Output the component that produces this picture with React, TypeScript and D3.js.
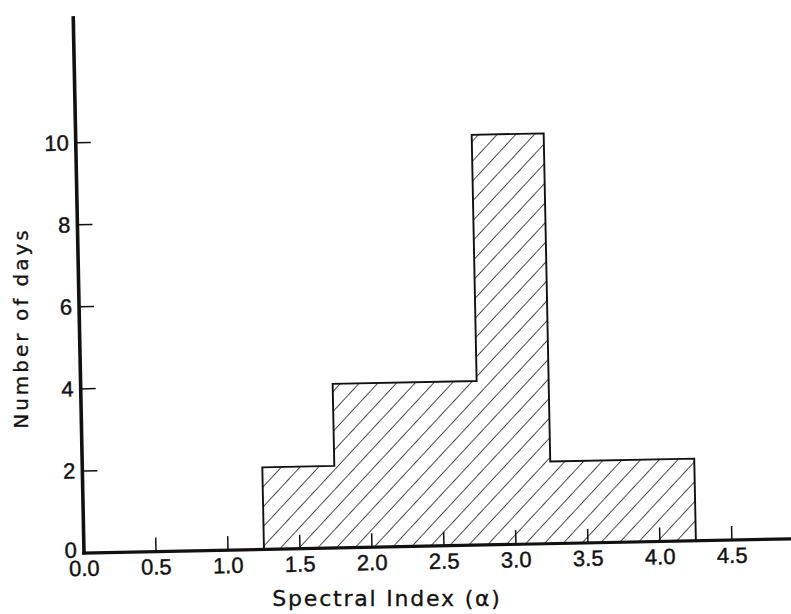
import React from "react";
import * as d3 from "d3";

const binEdges = [1.25, 1.75, 2.75, 3.25, 4.25];
const counts = [2, 4, 10, 2];
const xTicks = [0.0, 0.5, 1.0, 1.5, 2.0, 2.5, 3.0, 3.5, 4.0, 4.5];
const yTicks = [2, 4, 6, 8, 10];
const xTitle = "Spectral Index (α)";
const yTitle = "Number of days";

const W = 791;
const H = 614;
const ox = 84;
const oy = 553;

export default function App() {
  const x = d3.scaleLinear().domain([0, 1]).range([ox, ox + 144]);
  const y = d3.scaleLinear().domain([0, 10]).range([oy, oy - 410.3]);

  const pts: [number, number][] = [[binEdges[0], 0]];
  counts.forEach((c, i) => {
    pts.push([binEdges[i], c]);
    pts.push([binEdges[i + 1], c]);
  });
  pts.push([binEdges[binEdges.length - 1], 0]);
  const outline = d3
    .line<[number, number]>()
    .x((d) => x(d[0]))
    .y((d) => y(d[1]))(pts) as string;

  const tickFont = "'Liberation Sans', Arial, sans-serif";
  const titleFont = "'DejaVu Sans', sans-serif";

  return (
    <svg width={W} height={H} style={{ position: "absolute", left: 0, top: 0, background: "#fff" }}>
      <defs>
        <pattern
          id="hatch"
          patternUnits="userSpaceOnUse"
          width={13.6}
          height={13.6}
          patternTransform="rotate(44)"
        >
          <line x1={0} y1={-2} x2={0} y2={16} stroke="#111" strokeWidth={1.5} />
        </pattern>
      </defs>
      <rect x={0} y={0} width={W} height={H} fill="#fff" />
      <g transform={`rotate(-1.15, ${ox}, ${oy})`}>
        <path d={outline} fill="url(#hatch)" stroke="#111" strokeWidth={1.9} />
        <line x1={ox} y1={oy + 1.5} x2={ox} y2={16} stroke="#111" strokeWidth={3.6} />
        <line x1={ox - 1.8} y1={oy} x2={830} y2={oy} stroke="#111" strokeWidth={3.2} />
        {xTicks.map((t) =>
          t === 0 ? null : (
            <line key={"xt" + t} x1={x(t)} x2={x(t)} y1={oy} y2={oy - 14} stroke="#111" strokeWidth={1.5} />
          )
        )}
        {xTicks.map((t) => (
          <text
            key={"xl" + t}
            x={x(t)}
            y={oy + 23}
            textAnchor="middle"
            fontFamily={tickFont}
            fontSize={22}
            stroke="#111"
            strokeWidth={0.4}
            fill="#111"
          >
            {t.toFixed(1)}
          </text>
        ))}
        {yTicks.map((t) => (
          <line key={"yt" + t} x1={ox} x2={ox + 15} y1={y(t)} y2={y(t)} stroke="#111" strokeWidth={1.5} />
        ))}
        {[0, ...yTicks].map((t) => (
          <text
            key={"yl" + t}
            x={ox - 7}
            y={y(t) + (t === 0 ? -3 : 0)}
            textAnchor="end"
            dominantBaseline="central"
            fontFamily={tickFont}
            fontSize={22}
            stroke="#111"
            strokeWidth={0.4}
            fill="#111"
          >
            {t}
          </text>
        ))}
      </g>
      <text
        x={387}
        y={606}
        textAnchor="middle"
        fontFamily={titleFont}
        fontSize={22}
        letterSpacing={1.8}
        stroke="#111"
        strokeWidth={0.3}
        fill="#111"
      >
        {xTitle}
      </text>
      <text
        transform={`translate(28, 328) rotate(-90)`}
        textAnchor="middle"
        fontFamily={titleFont}
        fontSize={20}
        letterSpacing={3}
        stroke="#111"
        strokeWidth={0.3}
        fill="#111"
      >
        {yTitle}
      </text>
    </svg>
  );
}
